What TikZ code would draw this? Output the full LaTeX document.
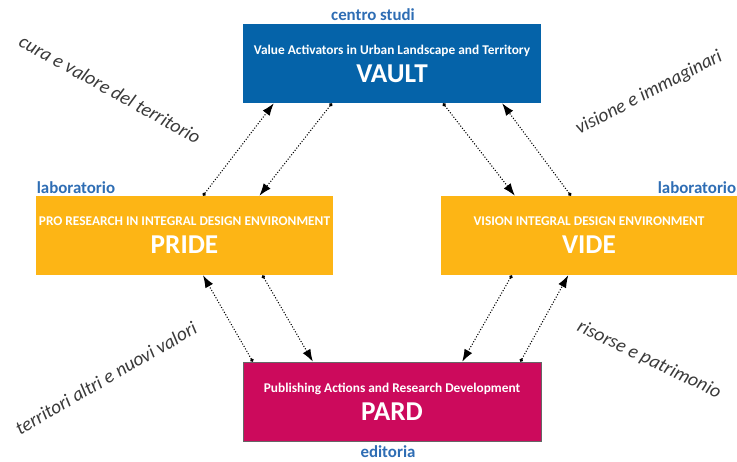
\documentclass[tikz,border=0pt]{standalone}
\usepackage{fontspec}
\setmainfont{Carlito}
\usetikzlibrary{arrows.meta,calc}

\definecolor{vaultblue}{HTML}{0563A9}
\definecolor{labyellow}{HTML}{FDB515}
\definecolor{pardred}{HTML}{CC0A5C}
\definecolor{tagblue}{HTML}{2E6DB4}
\definecolor{mottogray}{HTML}{3A3A3A}

\begin{document}
\begin{tikzpicture}
[
    x=0.02cm, y=-0.02cm,
    box/.style={minimum width=5.96cm, minimum height=1.58cm, inner sep=0pt, align=center, text=white},
    tag/.style={text=tagblue, font=\bfseries\fontsize{9.6}{11}\selectfont},
    motto/.style={text=mottogray, font=\itshape\fontsize{11}{13}\selectfont},
    link/.style={densely dotted, line width=0.6pt, {Circle[length=2pt]}-{Latex[length=7pt,width=5pt]}},
]
\useasboundingbox (0,0) rectangle (737,461);

% the four boxes
\node [box, fill=vaultblue] (vault) at (392,63.5)
{{\bfseries\fontsize{7.6}{9}\selectfont Value Activators in Urban Landscape and Territory}\\[4pt]
{\bfseries\fontsize{15.5}{15.5}\selectfont VAULT}};
\node [box, fill=labyellow] (pride) at (184.5,235.5)
{{\bfseries\fontsize{7.6}{9}\selectfont PRO RESEARCH IN INTEGRAL DESIGN ENVIRONMENT}\\[4pt]
{\bfseries\fontsize{15.5}{15.5}\selectfont PRIDE}};
\node [box, fill=labyellow, minimum width=5.92cm] (vide) at (589,235.5)
{{\bfseries\fontsize{7.6}{9}\selectfont VISION INTEGRAL DESIGN ENVIRONMENT}\\[4pt]
{\bfseries\fontsize{15.5}{15.5}\selectfont VIDE}};
\node [box, fill=pardred, draw=black!60, line width=0.4pt] (pard) at (392,401.5)
{{\bfseries\fontsize{7.6}{9}\selectfont Publishing Actions and Research Development}\\[4pt]
{\bfseries\fontsize{15.5}{15.5}\selectfont PARD}};

% tags
\node [tag] (centro) at (373,15) {centro studi};
\node [tag] (labl) at (76,188) {laboratorio};
\node [tag] (labr) at (697,188) {laboratorio};
\node [tag] (edit) at (388,452) {editoria};

% mottos
\node [motto, rotate=-29] (cura) at (110,89) {cura e valore del territorio};
\node [motto, rotate=27.5] (visione) at (649,93) {visione e immaginari};
\node [motto, rotate=30] (altri) at (106,378) {territori altri e nuovi valori};
\node [motto, rotate=-25.5] (risorse) at (649,360) {risorse e patrimonio};

% connectors
\draw [link] ($(pride.north west)!0.562!(pride.north east)$) -- ($(vault.south west)!0.104!(vault.south east)$);
\draw [link] ($(vault.south west)!0.299!(vault.south east)$) -- ($(pride.north west)!0.751!(pride.north east)$);
\draw [link] ($(vault.south west)!0.671!(vault.south east)$) -- ($(vide.north west)!0.25!(vide.north east)$);
\draw [link] ($(vide.north west)!0.439!(vide.north east)$) -- ($(vault.south west)!0.869!(vault.south east)$);
\draw [link] ($(pride.south west)!0.761!(pride.south east)$) -- ($(pard.north west)!0.235!(pard.north east)$);
\draw [link] ($(pard.north west)!0.034!(pard.north east)$) -- ($(pride.south west)!0.562!(pride.south east)$);
\draw [link] ($(vide.south west)!0.24!(vide.south east)$) -- ($(pard.north west)!0.735!(pard.north east)$);
\draw [link] ($(pard.north west)!0.93!(pard.north east)$) -- ($(vide.south west)!0.43!(vide.south east)$);
\end{tikzpicture}
\end{document}
